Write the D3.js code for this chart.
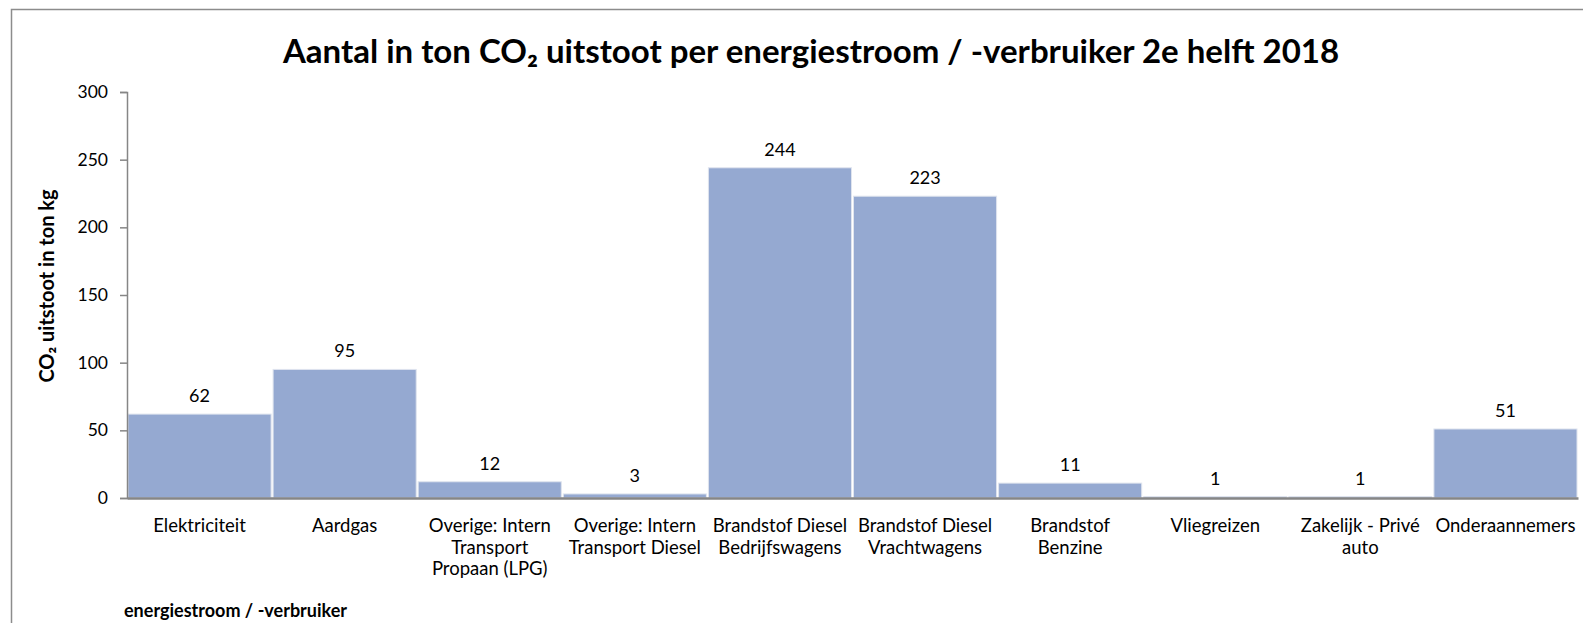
<!DOCTYPE html>
<html>
<head>
<meta charset="utf-8">
<script src="https://cdn.jsdelivr.net/npm/d3@7"></script>
<style>
  body { margin: 0; background: #fff; }
  svg { display: block; font-family: Lato, "Open Sans", sans-serif; }
</style>
</head>
<body>
<script>
// categories (multi-line labels) and values
var categories = [
  ["Elektriciteit"],
  ["Aardgas"],
  ["Overige: Intern", "Transport", "Propaan (LPG)"],
  ["Overige: Intern", "Transport Diesel"],
  ["Brandstof Diesel", "Bedrijfswagens"],
  ["Brandstof Diesel", "Vrachtwagens"],
  ["Brandstof", "Benzine"],
  ["Vliegreizen"],
  ["Zakelijk - Privé", "auto"],
  ["Onderaannemers"]
];
var values = [62, 95, 12, 3, 244, 223, 11, 1, 1, 51];
var yTicks = [0, 50, 100, 150, 200, 250, 300];

var width = 1583, height = 623;
var margin = {left: 127, right: 5, top: 92, bottom: 125};

var svg = d3.select("body").append("svg")
  .attr("width", width)
  .attr("height", height);

// chart frame (cut off on the right / bottom)
svg.append("rect")
  .attr("x", 11.5).attr("y", 9.5)
  .attr("width", 1700).attr("height", 700)
  .attr("fill", "none")
  .attr("stroke", "#8c8c8c")
  .attr("stroke-width", 1.5);

var x = d3.scaleBand()
  .domain(d3.range(categories.length))
  .range([margin.left, 1578])
  .padding(0);

var y = d3.scaleLinear()
  .domain([0, 300])
  .range([498, margin.top]);

// title
svg.append("text")
  .attr("x", 811).attr("y", 63)
  .attr("text-anchor", "middle")
  .style("font-weight", "bold")
  .style("font-size", "33px")
  .text("Aantal in ton CO₂ uitstoot per energiestroom / -verbruiker 2e helft 2018");

// bars
svg.selectAll(".bar")
  .data(values)
  .enter().append("rect")
  .attr("class", "bar")
  .attr("x", function(d, i) { return x(i) + 1; })
  .attr("width", x.bandwidth() - 2)
  .attr("y", function(d) { return y(d); })
  .attr("height", function(d) { return y(0) - y(d); })
  .attr("fill", "#95a9d1")
  .attr("stroke", "#dfe4ee")
  .attr("stroke-width", 1);

// value labels
svg.selectAll(".val")
  .data(values)
  .enter().append("text")
  .attr("class", "val")
  .attr("x", function(d, i) { return x(i) + x.bandwidth() / 2; })
  .attr("y", function(d) { return y(d) - 12; })
  .attr("text-anchor", "middle")
  .style("font-size", "18px")
  .text(function(d) { return d; });

// y axis
var yAxis = svg.append("g")
  .attr("transform", "translate(" + margin.left + ",0)")
  .call(d3.axisLeft(y).tickValues(yTicks).tickSize(7).tickPadding(12));
yAxis.select(".domain").attr("stroke", "#868686").attr("stroke-width", 1.5);
yAxis.selectAll(".tick line").attr("stroke", "#868686").attr("stroke-width", 1.5);
yAxis.selectAll(".tick text")
  .style("font-family", "Lato, sans-serif")
  .style("font-size", "17.5px")
  .attr("fill", "#000");

// x axis
var xAxis = svg.append("g")
  .attr("transform", "translate(0," + y(0) + ")")
  .call(d3.axisBottom(x).tickSize(0).tickFormat(""));
xAxis.select(".domain").attr("stroke", "#868686").attr("stroke-width", 2.5);

// category labels
var cat = svg.selectAll(".cat")
  .data(categories)
  .enter().append("text")
  .attr("class", "cat")
  .attr("x", function(d, i) { return x(i) + x.bandwidth() / 2; })
  .attr("y", 532)
  .attr("text-anchor", "middle")
  .style("font-size", "18.5px");
cat.selectAll("tspan")
  .data(function(d) { return d; })
  .enter().append("tspan")
  .attr("x", function() { return this.parentNode.getAttribute("x"); })
  .attr("dy", function(d, i) { return i === 0 ? 0 : 21.7; })
  .text(function(d) { return d; });

// axis titles
svg.append("text")
  .attr("transform", "translate(54,286) rotate(-90)")
  .attr("text-anchor", "middle")
  .style("font-weight", "bold")
  .style("font-size", "20px")
  .text("CO₂ uitstoot in ton kg");

svg.append("text")
  .attr("x", 124).attr("y", 617)
  .style("font-weight", "bold")
  .style("font-size", "18px")
  .text("energiestroom / -verbruiker");
</script>
</body>
</html>
